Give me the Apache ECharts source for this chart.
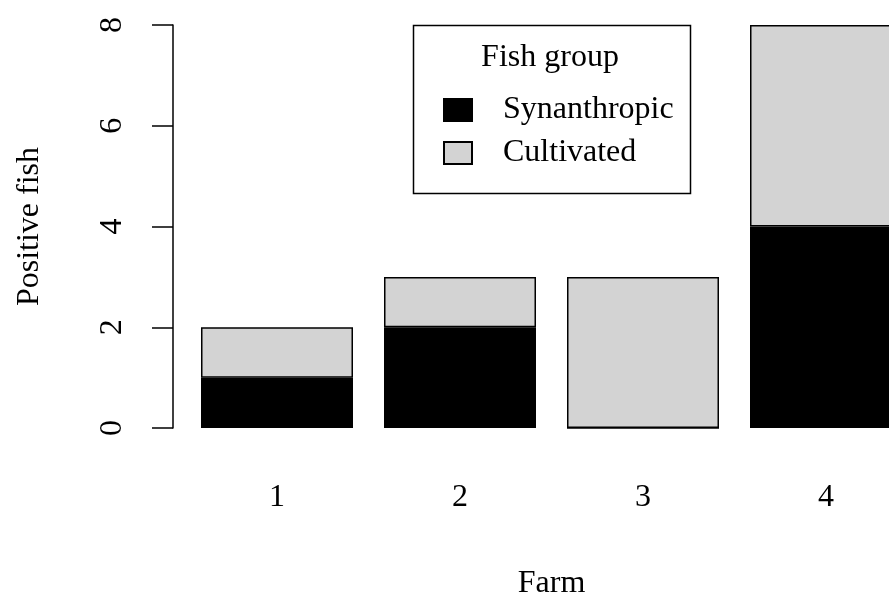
<!DOCTYPE html>
<html>
<head>
<meta charset="utf-8">
<script src="https://cdn.jsdelivr.net/npm/echarts@6/dist/echarts.min.js"></script>
<style>
  html, body { margin: 0; padding: 0; background: #fff; }
  #chart { width: 889px; height: 595px; }
</style>
</head>
<body>
<div id="chart"></div>
<script>
const farms = ["1", "2", "3", "4"];
const synanthropic = [1, 2, 0, 4];
const cultivated = [1, 1, 3, 4];
const yTicks = { min: 0, max: 8, interval: 2 };

const font = "Liberation Serif";
const chart = echarts.init(document.getElementById("chart"));

const option = {
  backgroundColor: "#fff",
  animation: false,
  textStyle: { fontFamily: font },
  grid: {
    left: 185.5,
    right: -28.5,
    top: 25,
    bottom: 167,
    outerBoundsMode: "none",
  },
  graphic: [
    {
      type: "rect",
      shape: { x: 413.5, y: 25.5, width: 277, height: 168 },
      style: { fill: "#fff", stroke: "#000", lineWidth: 1.5 },
      z: 5,
    },
    {
      type: "text",
      x: 550,
      y: 58,
      style: {
        text: "Fish group",
        font: "32px " + font,
        fill: "#000",
        align: "center",
        verticalAlign: "middle",
      },
      z: 6,
    },
  ],
  legend: {
    orient: "vertical",
    left: 443,
    top: 94,
    padding: 0,
    icon: "rect",
    itemWidth: 28,
    itemHeight: 22,
    itemGap: 11,
    z: 10,
    textStyle: {
      fontFamily: font,
      fontSize: 32,
      color: "#000",
      padding: [0, 0, 0, 26],
    },
    data: ["Synanthropic", "Cultivated"],
  },
  xAxis: {
    type: "category",
    data: farms,
    axisLine: { show: false },
    axisTick: { show: false },
    axisLabel: {
      margin: 54,
      fontSize: 32,
      color: "#000",
      fontFamily: font,
    },
    name: "Farm",
    nameLocation: "middle",
    nameGap: 140,
    nameTextStyle: { fontSize: 32, color: "#000", fontFamily: font },
  },
  yAxis: {
    type: "value",
    min: yTicks.min,
    max: yTicks.max,
    interval: yTicks.interval,
    offset: 12.5,
    axisLine: { show: true, lineStyle: { color: "#000", width: 1.5 } },
    axisTick: { show: true, length: 21, lineStyle: { color: "#000", width: 1.5 } },
    splitLine: { show: false },
    axisLabel: {
      rotate: 90,
      margin: 44,
      fontSize: 32,
      color: "#000",
      fontFamily: font,
    },
    name: "Positive fish",
    nameLocation: "middle",
    nameRotate: 90,
    nameGap: 127,
    nameTextStyle: { fontSize: 32, color: "#000", fontFamily: font },
  },
  series: [
    {
      name: "Synanthropic",
      type: "bar",
      stack: "fish",
      barWidth: 152,
      data: synanthropic,
      itemStyle: { color: "#000", borderColor: "#000", borderWidth: 1.5 },
    },
    {
      name: "Cultivated",
      type: "bar",
      stack: "fish",
      barWidth: 152,
      data: cultivated,
      itemStyle: { color: "#d3d3d3", borderColor: "#000", borderWidth: 1.5 },
    },
  ],
};

chart.setOption(option);
window.addEventListener("resize", () => chart.resize());
</script>
</body>
</html>
